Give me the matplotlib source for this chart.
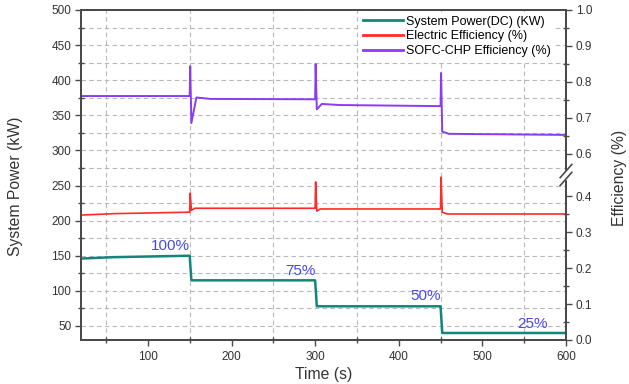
import numpy as np
import matplotlib
matplotlib.use("Agg")
import matplotlib.pyplot as plt
from matplotlib.ticker import MultipleLocator, FixedLocator, FormatStrFormatter

plt.rcParams['font.family'] = ['Liberation Sans', 'DejaVu Sans']

# ---------------- data ----------------
t_power = [20, 60, 149, 150, 152, 299, 300, 302, 449, 450, 452, 600]
power = [146, 148, 150, 150, 115, 115, 115, 78, 78, 78, 40, 40]

t_elec = [20, 60, 149, 150, 150.6, 152, 156, 299, 300, 300.6, 302, 306, 449, 450, 450.6, 452, 458, 600]
elec = [0.347, 0.351, 0.355, 0.355, 0.414, 0.360, 0.366, 0.366, 0.366, 0.467, 0.358, 0.364,
        0.364, 0.364, 0.49, 0.355, 0.350, 0.350]

t_chp = [20, 149, 150, 150.6, 152, 158, 175, 299, 300, 300.6, 302, 308, 330, 449, 450, 450.6, 452, 460, 600]
chp = [0.761, 0.761, 0.761, 0.844, 0.686, 0.757, 0.753, 0.752, 0.752, 0.850, 0.724, 0.739, 0.736,
       0.733, 0.733, 0.825, 0.662, 0.656, 0.653]

load_labels = ['100%', '75%', '50%', '25%']
load_x = [150, 300, 450, 578]
load_y = [154, 119, 83, 43]

series_labels = ['System Power(DC) (KW)', 'Electric Efficiency (%)', 'SOFC-CHP Efficiency (%)']

# ---------------- styles ----------------
C_POWER = '#13857c'
C_ELEC = '#ff2a2a'
C_CHP = '#8b3cf2'
C_TXT = '#4848ee'
SPINE = '#4a4a4a'
GRIDC = '#b8b8b8'
TXT = '#333333'

G = 0.1167  # compressed gap for the 0.4-0.6 break


def fwd(e):
    e = np.asarray(e, float)
    return np.where(e <= 0.4, e,
                    np.where(e >= 0.6, e - 0.2 + G, 0.4 + (e - 0.4) * G / 0.2))


def inv(y):
    y = np.asarray(y, float)
    return np.where(y <= 0.4, y,
                    np.where(y >= 0.4 + G, y + 0.2 - G, 0.4 + (y - 0.4) * 0.2 / G))


fig = plt.figure(figsize=(6.29, 3.84), dpi=100)
ax = fig.add_axes([81 / 629, 1 - 340 / 384, (566 - 81) / 629, (340 - 10) / 384])
ax2 = ax.twinx()

ax.set_xlim(20, 600)
ax.set_ylim(30, 500)
ax.xaxis.set_major_locator(MultipleLocator(100))
ax.xaxis.set_minor_locator(MultipleLocator(50))
ax.yaxis.set_major_locator(MultipleLocator(50))
ax.yaxis.set_minor_locator(MultipleLocator(25))

ax.grid(which='minor', axis='x', color=GRIDC, ls=(0, (4, 3)), lw=0.8)
ax.grid(which='both', axis='y', color=GRIDC, ls=(0, (4, 3)), lw=0.8)
ax.set_axisbelow(True)

l1, = ax.plot(t_power, power, color=C_POWER, lw=1.8, label=series_labels[0], zorder=3)

ax2.set_yscale('function', functions=(fwd, inv))
ax2.set_ylim(0, 1.0)
l2, = ax2.plot(t_elec, elec, color=C_ELEC, lw=1.2, label=series_labels[1])
l3, = ax2.plot(t_chp, chp, color=C_CHP, lw=1.4, label=series_labels[2])
ax2.yaxis.set_major_locator(FixedLocator([0.0, 0.1, 0.2, 0.3, 0.4, 0.6, 0.7, 0.8, 0.9, 1.0]))
ax2.yaxis.set_minor_locator(FixedLocator([0.05, 0.15, 0.25, 0.35, 0.65, 0.75, 0.85, 0.95]))
ax2.yaxis.set_major_formatter(FormatStrFormatter('%.1f'))

for a in (ax, ax2):
    for s in a.spines.values():
        s.set_color(SPINE)
        s.set_linewidth(1.4)
    a.tick_params(which='major', direction='out', length=4, width=1.0, color=SPINE,
                  labelsize=8.5, labelcolor=TXT)
    a.tick_params(which='minor', direction='inout', length=4, width=1.0, color=SPINE)

ax.tick_params(axis='x', pad=4)
ax.tick_params(axis='y', pad=3)
ax2.tick_params(axis='y', pad=3)

for lab, x, y in zip(load_labels, load_x, load_y):
    ax.text(x, y, lab, color=C_TXT, fontsize=11, ha='right', va='bottom', zorder=4)

# axis break marker on the right spine
bx = 1.0
ax2.plot([bx, bx], [0.5 - 0.01, 0.5 + 0.01], transform=ax2.transAxes,
         color='white', lw=2.5, clip_on=False, zorder=4)
for dy in (-0.012, 0.012):
    ax2.plot([bx - 0.012, bx + 0.012], [0.5 + dy - 0.02, 0.5 + dy + 0.02],
             transform=ax2.transAxes, color=SPINE, lw=1.2, clip_on=False, zorder=5)

ax.set_ylabel('System Power (kW)', fontsize=11.3, color=TXT)
ax.yaxis.set_label_coords((23 - 81) / 485, (340 - 186) / 330)
ax2.set_ylabel('Efficiency (%)', fontsize=11.3, color=TXT)
ax2.yaxis.set_label_coords((612 - 81) / 485, (340 - 178) / 330)
ax.set_xlabel('Time (s)', fontsize=11.3, color=TXT)
ax.xaxis.set_label_coords(0.5, (340 - 367) / 330)

leg = ax2.legend(handles=[l1, l2, l3], loc='upper right', bbox_to_anchor=(0.99, 1.013),
                 fontsize=9, frameon=True, facecolor='white', edgecolor='none', framealpha=1,
                 handlelength=3.2, handletextpad=0.3, labelspacing=0.22, borderpad=0.3,
                 fancybox=False)
leg.set_zorder(10)
for h in leg.get_lines():
    h.set_linewidth(2.0)

fig.savefig('out.png', dpi=100)
